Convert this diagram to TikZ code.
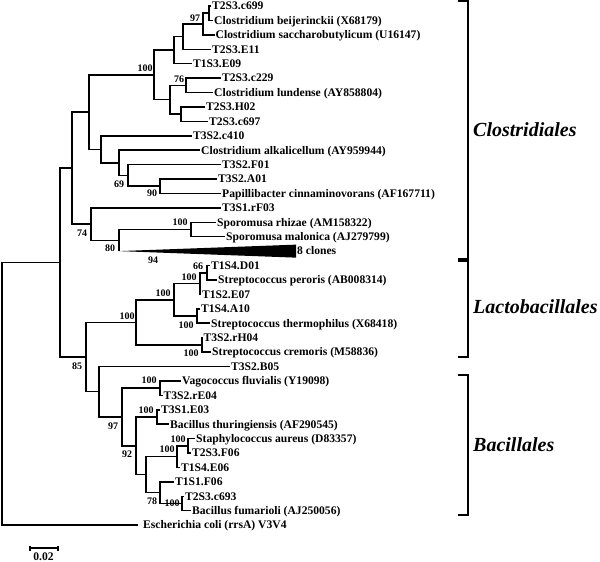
\documentclass[tikz,border=0pt]{standalone}
\usepackage{fontspec}
\setmainfont{Liberation Serif}
\usepackage{tikz}

\tikzset{
    branch/.style={line width=1.5pt},
    leaf/.style={anchor=west, inner sep=1pt, text height=7.7pt, text depth=0pt,
        font=\fontsize{11.6}{12}\selectfont\bfseries},
    boot/.style={inner sep=0pt, text height=7pt, text depth=0pt,
        font=\fontsize{10}{10}\selectfont\bfseries},
    order/.style={anchor=west, inner sep=0pt, text height=13.5pt, text depth=0pt,
        font=\fontsize{20}{20}\selectfont\bfseries\itshape},
    bracket/.style={line width=2pt}
}

\begin{document}
\begin{tikzpicture}[x=1pt, y=-1pt]
    \useasboundingbox (0,0) rectangle (600,562);
    % Leaves
    \foreach \i/\x/\name in {1/211/T2S3.c699, 2/213/Clostridium beijerinckii (X68179),
        3/214.5/Clostridium saccharobutylicum (U16147), 4/211/T2S3.E11, 5/192/T1S3.E09,
        6/221/T2S3.c229, 7/213/Clostridium lundense (AY858804), 8/205/T2S3.H02,
        9/208/T2S3.c697, 10/192/T3S2.c410, 11/200/Clostridium alkalicellum (AY959944),
        12/221/T3S2.F01, 13/217/T3S2.A01, 14/221/Papillibacter cinnaminovorans (AF167711),
        15/221/T3S1.rF03, 16/216/Sporomusa rhizae (AM158322), 17/225/Sporomusa malonica (AJ279799),
        18/296/8 clones, 19/210/T1S4.D01, 20/217/Streptococcus peroris (AB008314),
        21/201/T1S2.E07, 22/200/T1S4.A10, 23/210/Streptococcus thermophilus (X68418),
        24/202.5/T3S2.rH04, 25/211/Streptococcus cremoris (M58836), 26/230/T3S2.B05,
        27/181/Vagococcus fluvialis (Y19098), 28/162.5/T3S2.rE04, 29/160/T3S1.E03,
        30/169/Bacillus thuringiensis (AF290545), 31/195/Staphylococcus aureus (D83357),
        32/191/T2S3.F06, 33/180/T1S4.E06, 34/174/T1S1.F06, 35/184/T2S3.c693,
        36/191/Bacillus fumarioli (AJ250056)} {
        \node[leaf] (L\i) at (\x, {6+(\i-1)*14.42}) {\name};
    }
    \node[leaf, inner xsep=5pt] (L37) at (138, 525.1) {Escherichia coli (rrsA) V3V4};
    % Internal nodes
    \foreach \n/\x/\y in {a1/209/13.2, a2/203/24.0, a3/183/36.6, a4/174/50.1,
        a5/154/74.9, a6/186/85.3, a7/181/114.1, a8/170/99.7, a9/89/112.1, a10/72/168.1,
        b1/160/186.2, b2/128/175.4, b3/119/162.8, b4/101/149.3,
        c1/191/229.5, c2/119/240.3, c3/91/224.1, tip/119/251.1,
        d1/207/272.8, d2/200/283.6, d3/197/316.0, d4/174/299.8, d5/202/344.9, d6/136/322.3,
        e1/160/388.1, e2/157/417.0, e3/188/445.8, e4/177/456.6, e5/182/503.5,
        e6/160/492.7, e7/146/474.7, e8/136/445.8, e9/122/417.0, e10/99/391.7,
        f1/86/357.0, g1/60/262.5, root/2/393.8} {
        \coordinate (\n) at (\x,\y);
    }
    % Branches
    \foreach \p/\c in {a1/L1, a1/L2, a2/a1, a2/L3, a3/a2, a3/L4, a4/a3, a4/L5,
        a5/a4, a5/a8, a8/a6, a8/a7, a6/L6, a6/L7, a7/L8, a7/L9, a9/a5, a9/b4,
        b4/L10, b4/b3, b3/L11, b3/b2, b2/L12, b2/b1, b1/L13, b1/L14,
        a10/a9, a10/c3, c3/L15, c3/c2, c2/c1, c2/tip, c1/L16, c1/L17,
        d1/L19, d1/L20, d2/d1, d2/L21, d3/L22, d3/L23, d4/d2, d4/d3,
        d5/L24, d5/L25, d6/d4, d6/d5,
        e1/L27, e1/L28, e2/L29, e2/L30, e3/L31, e3/L32, e4/e3, e4/L33,
        e5/L35, e5/L36, e6/L34, e6/e5, e7/e4, e7/e6, e8/e2, e8/e7,
        e9/e1, e9/e8, e10/L26, e10/e9, f1/d6, f1/e10, g1/a10, g1/f1,
        root/g1, root/L37} {
        \draw[branch] (\p) |- (\c);
    }
    % Collapsed clade
    \fill (tip) -- ([yshift=6.5pt]L18.west) -- ([yshift=-6.5pt]L18.west) -- cycle;
    % Bootstrap values
    \foreach \v/\x/\y [count=\k] in {97/195/18, 100/145/68, 76/179/79, 69/119/184,
        90/152/193, 100/180/222, 74/82/233, 80/110/248, 94/153/260, 66/198/266,
        100/189/277, 100/163/293, 100/186/325, 100/127/316, 100/191/353, 85/77/366,
        100/149/380, 100/146/410, 97/113/426, 100/178/439, 100/167/449, 92/127/454,
        78/152/501, 100/172/503} {
        \node[boot] (bs\k) at (\x,\y) {\v};
    }
    % Orders
    \node[order] (Clos) at (473,130) {Clostridiales};
    \node[order] (Lacto) at (473,307) {Lactobacillales};
    \node[order] (Bacil) at (473,445) {Bacillales};
    \draw[bracket] (458,1) -| (468,259) -- (458,259);
    \draw[bracket] (458,261) -| (468,357) -- (458,357);
    \draw[bracket] (458,375) -| (468,515) -- (458,515);
    % Scale bar
    \coordinate (s0) at (30,548);
    \coordinate (s1) at (58,548);
    \draw[branch] (s0) -- (s1);
    \draw[branch] ([yshift=2.5pt]s0) -- ([yshift=-2.5pt]s0);
    \draw[branch] ([yshift=2.5pt]s1) -- ([yshift=-2.5pt]s1);
    \node[leaf, anchor=center, inner sep=0pt] (scale) at (43.5,556.5) {0.02};
\end{tikzpicture}
\end{document}
